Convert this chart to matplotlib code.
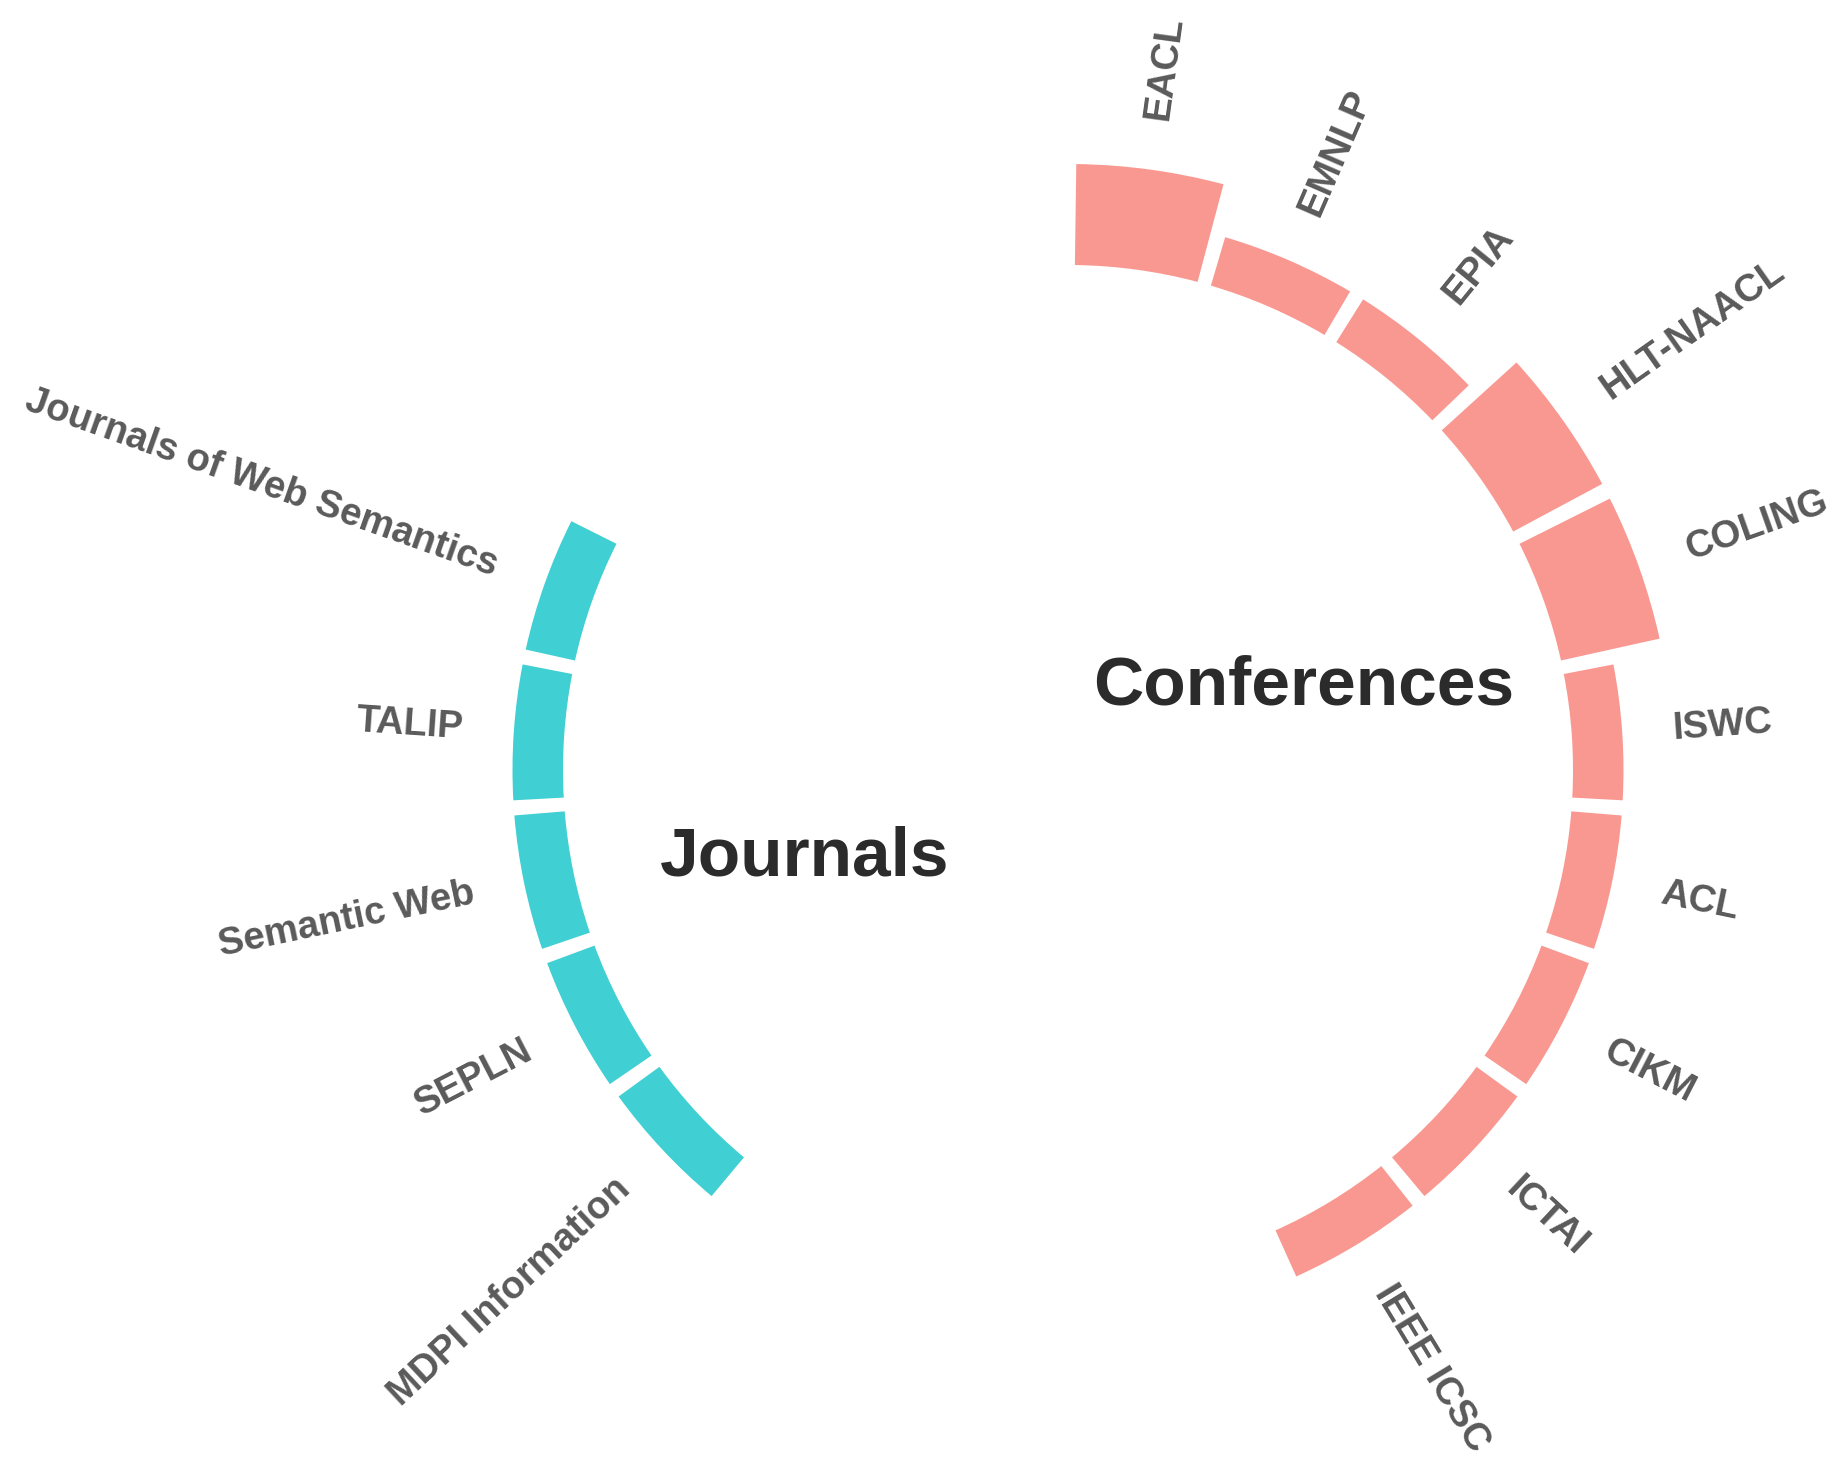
import numpy as np
import matplotlib
matplotlib.use('Agg')
import matplotlib.pyplot as plt

plt.rcParams['font.family'] = ['Liberation Sans', 'DejaVu Sans']

# venues, going clockwise from 12 o'clock
conferences = ['EACL', 'EMNLP', 'EPIA', 'HLT-NAACL', 'COLING',
               'ISWC', 'ACL', 'CIKM', 'ICTAI', 'IEEE ICSC']
conf_counts = [2, 1, 1, 2, 2, 1, 1, 1, 1, 1]
journals = ['MDPI Information', 'SEPLN', 'Semantic Web', 'TALIP',
            'Journals of Web Semantics']
journal_counts = [1, 1, 1, 1, 1]
empty_bar = 4  # empty slots after each group

conf_color = '#F8766D'
journal_color = '#00BFC4'

# build the slot layout (like the usual ggplot circular barplot)
names = conferences + [''] * empty_bar + journals + [''] * empty_bar
values = conf_counts + [0] * empty_bar + journal_counts + [0] * empty_bar
colors = [conf_color] * len(conferences) + [None] * empty_bar + \
         [journal_color] * len(journals) + [None] * empty_bar
n = len(names)
slot = 2 * np.pi / n
theta = (np.arange(n) + 0.5) * slot

offset = 10
rmax = 13

fig = plt.figure(figsize=(18.43, 14.82), dpi=100)
W, H = 1843, 1482
cx, cy = 1068, 770          # centre of the ring in pixels (from top-left)
rad = rmax * 50.5           # pixel radius of the axes
ax = fig.add_axes([(cx - rad) / W, (H - cy - rad) / H, 2 * rad / W, 2 * rad / H],
                  projection='polar')
ax.set_theta_offset(np.pi / 2)
ax.set_theta_direction(-1)
ax.set_ylim(0, rmax)
ax.set_axis_off()

for t, v, c, name in zip(theta, values, colors, names):
    if v == 0:
        continue
    ax.bar(t, v, width=slot * 0.9, bottom=offset, color=c, alpha=0.75,
           linewidth=0, align='center')
    ang = 90 - np.degrees(t)
    if np.degrees(t) > 180:
        rot, ha = ang + 180, 'right'
    else:
        rot, ha = ang, 'left'
    ax.text(t, offset + v + 1, name, rotation=rot, rotation_mode='anchor',
            ha=ha, va='center', fontsize=27.5, fontweight='bold', color='#5a5a5a')

# group titles
ax.text(np.radians(70.6), 4.95, 'Conferences', ha='center', va='center',
        fontsize=50, fontweight='bold', color='#2b2b2b')
ax.text(np.radians(251.7), 5.49, 'Journals', ha='center', va='center',
        fontsize=50, fontweight='bold', color='#2b2b2b')

fig.savefig('out.png', dpi=100, facecolor='white')
